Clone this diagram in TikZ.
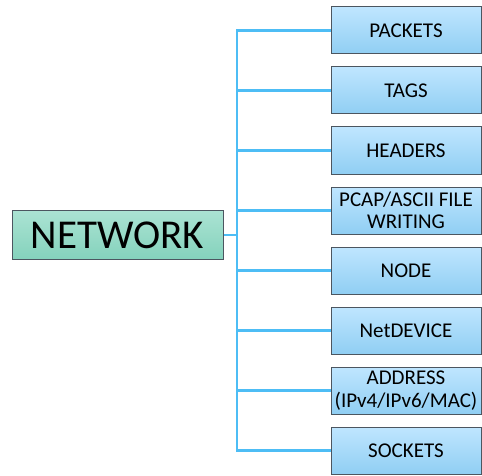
\documentclass[tikz,border=0pt]{standalone}
\usepackage{fontspec}
\setmainfont{Carlito}
\definecolor{linkblue}{HTML}{4DBDF5}
\definecolor{boxtop}{HTML}{BFE6FF}
\definecolor{boxbot}{HTML}{90CEF3}
\definecolor{roottop}{HTML}{ABE3D3}
\definecolor{rootbot}{HTML}{84D2BC}
\definecolor{edge}{HTML}{4C5660}
\begin{document}
\begin{tikzpicture}[x=1pt,y=1pt,
  leaf/.style={draw=edge,line width=1pt,top color=boxtop,bottom color=boxbot,
    minimum width=150pt,minimum height=47pt,inner sep=0pt,align=center,
    font=\fontsize{21}{22.5}\selectfont},
  root/.style={draw=edge,line width=1pt,top color=roottop,bottom color=rootbot,
    minimum width=211pt,minimum height=49pt,inner sep=0pt,
    font=\fontsize{41}{44}\selectfont},
  link/.style={draw=linkblue,line width=2.4pt}]
\useasboundingbox (0,0) rectangle (482,475);
\node[root] (net) at (117.5,240) {NETWORK};
\coordinate (j) at (237,240);
\foreach \name/\txt [count=\i from 0] in {
  pk/PACKETS, tg/TAGS, hd/HEADERS, pc/{PCAP/ASCII FILE\\WRITING},
  nd/NODE, dv/NetDEVICE, ad/{ADDRESS\\(IPv4/IPv6/MAC)}, sk/SOCKETS}
  \node[leaf] (\name) at (406,{475-30.5-60*\i}) {\txt};
\draw[link] (net.east) -- (j);
\foreach \name in {pk,tg,hd,pc,nd,dv,ad,sk}
  \draw[link] (j) |- (\name.west);
\end{tikzpicture}
\end{document}
